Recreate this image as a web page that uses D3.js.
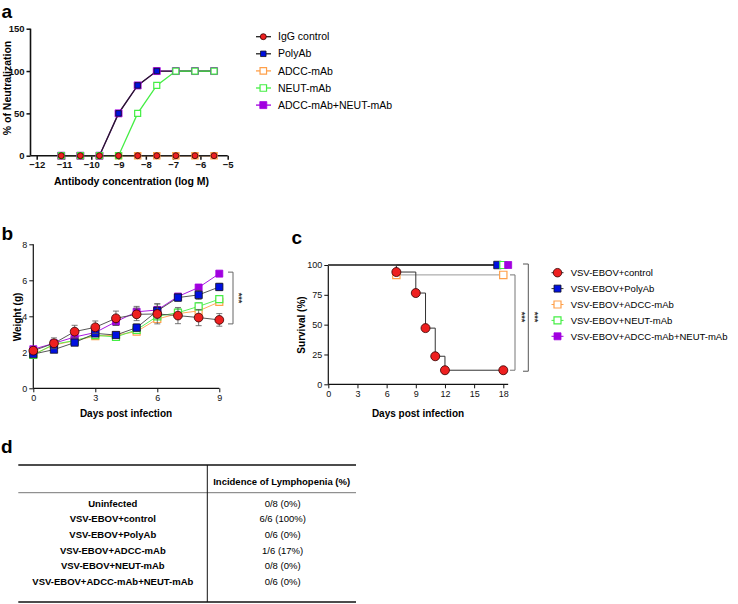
<!DOCTYPE html>
<html>
<head>
<meta charset="utf-8">
<script src="https://cdn.jsdelivr.net/npm/d3@7"></script>
<style>
  body { margin: 0; background: #fff; }
  svg text { font-family: Arial, 'Liberation Sans', sans-serif; }
</style>
</head>
<body>
<svg id="fig" width="738" height="604"></svg>
<script>
// ---- data ----
// panel a: neutralization vs antibody concentration
const concLogM = [-11.1, -10.4, -9.7, -9.0, -8.3, -7.6, -6.9, -6.2, -5.5]
const groupsA = ['IgG control', 'PolyAb', 'ADCC-mAb', 'NEUT-mAb', 'ADCC-mAb+NEUT-mAb']
const neutIgG    = [0, 0, 0, 0, 0, 0, 0, 0, 0]
const neutPolyAb = [0, 0, 0, 50, 83, 100, 100, 100, 100]
const neutADCC   = [0, 0, 0, 0, 0, 0, 0, 0, 0]
const neutNEUT   = [0, 0, 0, 0, 50, 83, 100, 100, 100]
const neutCombo  = [0, 0, 0, 50, 83, 100, 100, 100, 100]
const ticksA_x = [-12, -11, -10, -9, -8, -7, -6, -5]
const ticksA_y = [0, 50, 100, 150]

// panel b: weight
const daysB = [0, 1, 2, 3, 4, 5, 6, 7, 8, 9]
const weightControl    = [2.09, 2.5, 3.15, 3.39, 3.89, 4.11, 4.13, 4.04, 3.93, 3.8]
const weightControlErr = [0.1, 0.3, 0.35, 0.35, 0.4, 0.35, 0.55, 0.45, 0.45, 0.35]
const weightPolyAb     = [1.9, 2.15, 2.54, 3.05, 2.96, 3.37, 4.3, 5.04, 5.19, 5.63]
const weightPolyAbErr  = [0.1, 0.1, 0.15, 0.15, 0.15, 0.2, 0.4, 0.2, 0.25, 0.2]
const weightADCC       = [1.9, 2.4, 2.65, 2.9, 2.95, 3.15, 3.85, 4.15, 4.3, 4.8]
const weightADCCErr    = [0.1, 0.15, 0.15, 0.15, 0.15, 0.15, 0.15, 0.2, 0.2, 0.2]
const weightNEUT       = [1.85, 2.45, 2.65, 2.95, 2.85, 3.25, 4.0, 4.2, 4.55, 4.95]
const weightNEUTErr    = [0.1, 0.15, 0.15, 0.15, 0.15, 0.15, 0.15, 0.2, 0.2, 0.15]
const weightCombo      = [2.17, 2.5, 2.85, 3.1, 3.7, 4.25, 4.35, 5.1, 5.6, 6.37]
const weightComboErr   = [0.1, 0.15, 0.2, 0.2, 0.2, 0.3, 0.2, 0.15, 0.15, 0.1]
const ticksB_x = [0, 3, 6, 9]
const ticksB_y = [0, 2, 4, 6, 8]

// panel c: survival
const groupsC = ['VSV-EBOV+control', 'VSV-EBOV+PolyAb', 'VSV-EBOV+ADCC-mAb', 'VSV-EBOV+NEUT-mAb', 'VSV-EBOV+ADCC-mAb+NEUT-mAb']
const survControlDays = [0, 7, 9, 10, 11, 12, 18]
const survControlPct  = [100, 94.1, 76.5, 47.1, 23.5, 11.8, 11.8]
const survPolyAbDays  = [0, 17.4]
const survPolyAbPct   = [100, 100]
const survADCCDays    = [0, 7, 18]
const survADCCPct     = [100, 91.7, 91.7]
const survNEUTDays    = [0, 18]
const survNEUTPct     = [100, 100]
const survComboDays   = [0, 18.5]
const survComboPct    = [100, 100]
const ticksC_x = [0, 3, 6, 9, 12, 15, 18]
const ticksC_y = [0, 25, 50, 75, 100]

// panel d: table
const tableHeader = 'Incidence of Lymphopenia (%)'
const tableGroups = ['Uninfected', 'VSV-EBOV+control', 'VSV-EBOV+PolyAb', 'VSV-EBOV+ADCC-mAb', 'VSV-EBOV+NEUT-mAb', 'VSV-EBOV+ADCC-mAb+NEUT-mAb']
const tableIncidence = ['0/8 (0%)', '6/6 (100%)', '0/6 (0%)', '1/6 (17%)', '0/8 (0%)', '0/6 (0%)']

// ---- styles ----
const RED = '#ee2020', BLUE = '#0010e0', ORANGE = '#ffa04a', GREEN = '#44ee44', PURPLE = '#a100e0'
// shape, fill, stroke, line colour
const styleCtrl   = {shape: 'circle', fill: RED, stroke: '#300', line: '#222'}
const stylePoly   = {shape: 'square', fill: BLUE, stroke: '#112', line: '#222'}
const styleADCC   = {shape: 'square', fill: '#fff', stroke: ORANGE, line: ORANGE}
const styleNEUT   = {shape: 'square', fill: '#fff', stroke: GREEN, line: GREEN}
const styleCombo  = {shape: 'square', fill: PURPLE, stroke: PURPLE, line: PURPLE}

const svg = d3.select('#fig')

function marker(sel, st, size) {
  // size: side of square / diameter of circle
  const area = st.shape == 'circle' ? Math.PI * size * size / 4 : size * size
  sel.attr('d', d3.symbol().type(st.shape == 'circle' ? d3.symbolCircle : d3.symbolSquare).size(area))
    .attr('fill', st.fill)
    .attr('stroke', st.stroke)
    .attr('stroke-width', st.fill == '#fff' ? 1.2 : 0.8)
}

function styleAxis(g, fs, bold, width) {
  g.select('.domain').remove()
  g.selectAll('line').attr('stroke', '#111').attr('stroke-width', width)
  g.selectAll('text').attr('font-size', fs).attr('font-weight', bold ? 'bold' : 'normal').attr('fill', '#111')
}

function panelLabel(txt, x, y) {
  svg.append('text').attr('x', x).attr('y', y).attr('font-size', 19).attr('font-weight', 'bold').text(txt)
}

// ================= panel a =================
panelLabel('a', 1.5, 17.5)
const xA = d3.scaleLinear().domain([-12, -5]).range([36.7, 227.7])
const yA = d3.scaleLinear().domain([0, 150]).range([155.7, 28.7])
const gA = svg.append('g')
const axAx = gA.append('g').attr('transform', `translate(0,${yA(0)})`)
  .call(d3.axisBottom(xA).tickValues(ticksA_x).tickFormat(d3.format('d')).tickSize(4).tickPadding(2))
styleAxis(axAx, 9.5, true, 1.5)
const axAy = gA.append('g').attr('transform', 'translate(30.5,0)')
  .call(d3.axisLeft(yA).tickValues(ticksA_y).tickSize(4).tickPadding(2))
styleAxis(axAy, 9.5, true, 1.5)
gA.append('line').attr('x1', 30.5).attr('x2', xA(-5)).attr('y1', yA(0)).attr('y2', yA(0)).attr('stroke', '#111').attr('stroke-width', 1.6)
gA.append('line').attr('x1', 30.5).attr('x2', 30.5).attr('y1', yA(0)).attr('y2', yA(150)).attr('stroke', '#111').attr('stroke-width', 1.6)
gA.append('text').attr('x', 131.5).attr('y', 185).attr('text-anchor', 'middle')
  .attr('font-size', 10.5).attr('font-weight', 'bold').text('Antibody concentration (log M)')
gA.append('text').attr('transform', 'translate(11,88) rotate(-90)').attr('text-anchor', 'middle')
  .attr('font-size', 10.5).attr('font-weight', 'bold').text('% of Neutralization')

// drawing order follows the overlaps seen in the figure
const seriesA = [
  {vals: neutADCC, st: styleADCC, size: 6.3},
  {vals: neutCombo, st: styleCombo, size: 7},
  {vals: neutPolyAb, st: stylePoly, size: 5.5},
  {vals: neutNEUT, st: styleNEUT, size: 6},
  {vals: neutIgG, st: styleCtrl, size: 6}
]
const lineA = d3.line().x(d => xA(d[0])).y(d => yA(d[1]))
seriesA.forEach(s => {
  const pts = concLogM.map((c, i) => [c, s.vals[i]])
  gA.append('path').attr('d', lineA(pts)).attr('fill', 'none').attr('stroke', s.st.line).attr('stroke-width', 1.3)
})
seriesA.forEach(s => {
  gA.selectAll(null).data(concLogM.map((c, i) => [c, s.vals[i]])).enter()
    .append('path').attr('transform', d => `translate(${xA(d[0])},${yA(d[1])})`)
    .call(marker, s.st, s.size)
})

// legend a
const legA = [styleCtrl, stylePoly, styleADCC, styleNEUT, styleCombo]
const legAsize = [6, 5.5, 6.5, 6.5, 7]
groupsA.forEach((name, i) => {
  const y = 36.7 + i * 17.1
  const g = svg.append('g')
  g.append('line').attr('x1', 256).attr('x2', 271).attr('y1', y).attr('y2', y)
    .attr('stroke', legA[i].line).attr('stroke-width', 1.3)
  g.append('path').attr('transform', `translate(263.3,${y})`).call(marker, legA[i], legAsize[i])
  g.append('text').attr('x', 278).attr('y', y).attr('dy', '0.35em').attr('font-size', 10.5).text(name)
})

// ================= panel b =================
panelLabel('b', 1.5, 239.5)
const xB = d3.scaleLinear().domain([0, 9]).range([33.3, 219.3])
const yB = d3.scaleLinear().domain([0, 8]).range([388.3, 244.3])
const gB = svg.append('g')
const axBx = gB.append('g').attr('transform', `translate(0,${yB(0)})`)
  .call(d3.axisBottom(xB).tickValues(ticksB_x).tickSize(4).tickPadding(2))
styleAxis(axBx, 9, false, 1)
const axBy = gB.append('g').attr('transform', `translate(${xB(0)},0)`)
  .call(d3.axisLeft(yB).tickValues(ticksB_y).tickSize(4).tickPadding(2))
styleAxis(axBy, 9, false, 1)
gB.append('line').attr('x1', xB(0)).attr('x2', xB(9)).attr('y1', yB(0)).attr('y2', yB(0)).attr('stroke', '#111').attr('stroke-width', 1.2)
gB.append('line').attr('x1', xB(0)).attr('x2', xB(0)).attr('y1', yB(0)).attr('y2', yB(8)).attr('stroke', '#111').attr('stroke-width', 1.2)
gB.append('text').attr('x', 126).attr('y', 416.5).attr('text-anchor', 'middle')
  .attr('font-size', 10).attr('font-weight', 'bold').text('Days post infection')
gB.append('text').attr('transform', 'translate(21,317) rotate(-90)').attr('text-anchor', 'middle')
  .attr('font-size', 10).attr('font-weight', 'bold').text('Weight (g)')

const seriesB = [
  {vals: weightADCC, err: weightADCCErr, st: styleADCC, size: 7},
  {vals: weightNEUT, err: weightNEUTErr, st: styleNEUT, size: 7},
  {vals: weightCombo, err: weightComboErr, st: styleCombo, size: 7},
  {vals: weightPolyAb, err: weightPolyAbErr, st: stylePoly, size: 7.3},
  {vals: weightControl, err: weightControlErr, st: styleCtrl, size: 8.8}
]
const lineB = d3.line().x(d => xB(d[0])).y(d => yB(d[1]))
seriesB.forEach(s => {
  const pts = daysB.map((d, i) => [d, s.vals[i], s.err[i]])
  const g = gB.append('g')
  g.append('path').attr('d', lineB(pts)).attr('fill', 'none')
    .attr('stroke', s.st.line == '#222' ? '#444' : s.st.line).attr('stroke-width', 0.9)
  const eb = g.selectAll(null).data(pts).enter().append('g').attr('stroke', '#555').attr('stroke-width', 0.8)
  eb.append('line').attr('x1', d => xB(d[0])).attr('x2', d => xB(d[0]))
    .attr('y1', d => yB(d[1] - d[2])).attr('y2', d => yB(d[1] + d[2]))
  eb.append('line').attr('x1', d => xB(d[0]) - 3).attr('x2', d => xB(d[0]) + 3)
    .attr('y1', d => yB(d[1] + d[2])).attr('y2', d => yB(d[1] + d[2]))
  eb.append('line').attr('x1', d => xB(d[0]) - 3).attr('x2', d => xB(d[0]) + 3)
    .attr('y1', d => yB(d[1] - d[2])).attr('y2', d => yB(d[1] - d[2]))
  g.selectAll(null).data(pts).enter().append('path')
    .attr('transform', d => `translate(${xB(d[0])},${yB(d[1])})`)
    .call(marker, s.st, s.size)
})
// significance bracket b
const bTop = yB(weightCombo[9]) - 1.5, bBot = yB(weightControl[9]) + 4
gB.append('path').attr('d', `M228,${bTop}H233V${bBot}H228`).attr('fill', 'none').attr('stroke', '#666').attr('stroke-width', 1)
gB.append('text').attr('transform', `translate(236,${(bTop + bBot) / 2}) rotate(90)`).attr('text-anchor', 'middle')
  .attr('font-size', 9).attr('font-weight', 'bold').attr('fill', '#333').text('***')

// ================= panel c =================
panelLabel('c', 291.5, 244)
const xC = d3.scaleLinear().domain([0, 18]).range([328.3, 503.3])
const yC = d3.scaleLinear().domain([0, 100]).range([384.3, 265])
const gC = svg.append('g')
const axCx = gC.append('g').attr('transform', `translate(0,${yC(0)})`)
  .call(d3.axisBottom(xC).tickValues(ticksC_x).tickSize(4).tickPadding(2))
styleAxis(axCx, 9, false, 1)
const axCy = gC.append('g').attr('transform', `translate(${xC(0)},0)`)
  .call(d3.axisLeft(yC).tickValues(ticksC_y).tickSize(4).tickPadding(2))
styleAxis(axCy, 9, false, 1)
gC.append('line').attr('x1', xC(0)).attr('x2', xC(18.5)).attr('y1', yC(0)).attr('y2', yC(0)).attr('stroke', '#111').attr('stroke-width', 1.2)
gC.append('line').attr('x1', xC(0)).attr('x2', xC(0)).attr('y1', yC(0)).attr('y2', yC(100)).attr('stroke', '#111').attr('stroke-width', 1.2)
gC.append('text').attr('x', 418).attr('y', 416.5).attr('text-anchor', 'middle')
  .attr('font-size', 10).attr('font-weight', 'bold').text('Days post infection')
gC.append('text').attr('transform', 'translate(305,325) rotate(-90)').attr('text-anchor', 'middle')
  .attr('font-size', 10).attr('font-weight', 'bold').text('Survival (%)')

const seriesC = [
  {days: survPolyAbDays, pct: survPolyAbPct, st: stylePoly, size: 7.5, line: '#222'},
  {days: survNEUTDays, pct: survNEUTPct, st: styleNEUT, size: 7, line: '#222'},
  {days: survComboDays, pct: survComboPct, st: styleCombo, size: 7, line: '#222'},
  {days: survADCCDays, pct: survADCCPct, st: styleADCC, size: 7.3, line: '#999'},
  {days: survControlDays, pct: survControlPct, st: styleCtrl, size: 9, line: '#333'}
]
const lineC = d3.line().x(d => xC(d[0])).y(d => yC(d[1])).curve(d3.curveStepAfter)
seriesC.forEach(s => {
  const pts = s.days.map((d, i) => [d, s.pct[i]])
  gC.append('path').attr('d', lineC(pts)).attr('fill', 'none').attr('stroke', s.line).attr('stroke-width', 1)
})
seriesC.forEach(s => {
  const pts = s.days.map((d, i) => [d, s.pct[i]]).slice(1)
  gC.selectAll(null).data(pts).enter().append('path')
    .attr('transform', d => `translate(${xC(d[0])},${yC(d[1])})`)
    .call(marker, s.st, s.size)
})
// significance brackets c
const c1Top = yC(survADCCPct[2]), c1Bot = yC(survControlPct[6])
gC.append('path').attr('d', `M510,${c1Top}H515V${c1Bot}H510`).attr('fill', 'none').attr('stroke', '#777').attr('stroke-width', 1)
const c2Top = yC(100) - 1, c2Bot = c1Bot + 1
gC.append('path').attr('d', `M523,${c2Top}H528.3V${c2Bot}H523`).attr('fill', 'none').attr('stroke', '#555').attr('stroke-width', 1)
;[518.5, 531.5].forEach(x => {
  gC.append('text').attr('transform', `translate(${x},317) rotate(90)`).attr('text-anchor', 'middle')
    .attr('font-size', 9).attr('font-weight', 'bold').attr('fill', '#333').text('***')
})

// legend c
const legC = [styleCtrl, stylePoly, styleADCC, styleNEUT, styleCombo]
const legCsize = [8.5, 7, 7, 7, 7]
const legCline = ['#333', '#333', ORANGE, GREEN, PURPLE]
groupsC.forEach((name, i) => {
  const y = 272.7 + i * 15.9
  const g = svg.append('g')
  g.append('line').attr('x1', 551.5).attr('x2', 563.5).attr('y1', y).attr('y2', y)
    .attr('stroke', legCline[i]).attr('stroke-width', 1)
  g.append('path').attr('transform', `translate(557.5,${y})`).call(marker, legC[i], legCsize[i])
  g.append('text').attr('x', 570.7).attr('y', y).attr('dy', '0.35em').attr('font-size', 9.5).text(name)
})

// ================= panel d (table) =================
panelLabel('d', 1, 452.7)
const tL = 18.3, tR = 356, tDiv = 207.3, tTop = 465, tHead = 492.7, tBot = 602
const rowY = d3.scalePoint().domain(tableGroups).range([503.3, 581.7])
const gD = svg.append('g')
gD.append('line').attr('x1', tL).attr('x2', tR).attr('y1', tTop).attr('y2', tTop).attr('stroke', '#111').attr('stroke-width', 1.6)
gD.append('line').attr('x1', tL).attr('x2', tR).attr('y1', tHead).attr('y2', tHead).attr('stroke', '#777').attr('stroke-width', 1)
gD.append('line').attr('x1', tL).attr('x2', tR).attr('y1', tBot).attr('y2', tBot).attr('stroke', '#111').attr('stroke-width', 1.6)
gD.append('line').attr('x1', tDiv).attr('x2', tDiv).attr('y1', tTop).attr('y2', tBot).attr('stroke', '#111').attr('stroke-width', 1)
gD.append('text').attr('x', (tDiv + tR) / 2).attr('y', 481.7).attr('dy', '0.35em').attr('text-anchor', 'middle')
  .attr('font-size', 9.5).attr('font-weight', 'bold').text(tableHeader)
tableGroups.forEach((grp, i) => {
  gD.append('text').attr('x', (tL + tDiv) / 2).attr('y', rowY(grp)).attr('dy', '0.35em').attr('text-anchor', 'middle')
    .attr('font-size', 9.5).attr('font-weight', 'bold').text(grp)
  gD.append('text').attr('x', (tDiv + tR) / 2 + 1).attr('y', rowY(grp)).attr('dy', '0.35em').attr('text-anchor', 'middle')
    .attr('font-size', 9.5).text(tableIncidence[i])
})
</script>
</body>
</html>
